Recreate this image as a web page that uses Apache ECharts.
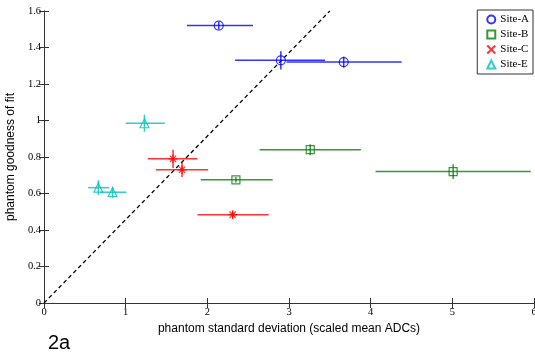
<!DOCTYPE html>
<html>
<head>
<meta charset="utf-8">
<script src="https://cdn.jsdelivr.net/npm/echarts@6/dist/echarts.min.js"></script>
<style>
  html, body { margin: 0; padding: 0; background: #fff; }
  #chart { width: 535px; height: 362px; }
</style>
</head>
<body>
<div id="chart"></div>
<script>
// each point: [x, y, xLow, xHigh, yErr]
const siteA = [
  [2.14, 1.52, 1.75, 2.56, 0.02],
  [2.90, 1.33, 2.34, 3.44, 0.05],
  [3.67, 1.32, 2.97, 4.38, 0.03]
];
const siteB = [
  [3.26, 0.84, 2.64, 3.88, 0.03],
  [2.35, 0.675, 1.92, 2.80, 0.015],
  [5.01, 0.72, 4.06, 5.96, 0.04]
];
const siteC = [
  [1.58, 0.79, 1.27, 1.88, 0.05],
  [1.69, 0.73, 1.37, 2.01, 0.04],
  [2.31, 0.484, 1.88, 2.75, 0.02]
];
const siteE = [
  [1.23, 0.985, 1.00, 1.48, 0.047],
  [0.665, 0.632, 0.54, 0.80, 0.04],
  [0.84, 0.607, 0.685, 1.01, 0.03]
];
const refLine = [[0, 0], [3.5, 1.6]];

const sites = [
  { name: 'Site-A', data: siteA, color: '#0000ff', symbol: 'circle', size: 9 },
  { name: 'Site-B', data: siteB, color: '#008000', symbol: 'rect', size: 8 },
  { name: 'Site-C', data: siteC, color: '#ff0000',
    symbol: 'path://M5 0 L5 10 M0 5 L10 5 M1.5 1.5 L8.5 8.5 M8.5 1.5 L1.5 8.5', size: 9 },
  { name: 'Site-E', data: siteE, color: '#00bfbf', symbol: 'triangle', size: 9 }
];

const serif = '"Liberation Serif", "Times New Roman", serif';
const sans = '"Liberation Sans", Arial, sans-serif';
const axisColor = '#333';

const chart = echarts.init(document.getElementById('chart'));

const errorSeries = sites.map(s => ({
  name: s.name + ' err',
  type: 'custom',
  data: s.data,
  z: 2,
  silent: true,
  renderItem: (params, api) => {
    const x = api.value(0), y = api.value(1), e = api.value(4);
    const h1 = api.coord([api.value(2), y]);
    const h2 = api.coord([api.value(3), y]);
    const v1 = api.coord([x, y - e]);
    const v2 = api.coord([x, y + e]);
    const style = { stroke: s.color, lineWidth: 1.5, opacity: 0.8 };
    return {
      type: 'group',
      children: [
        { type: 'line', shape: { x1: h1[0], y1: h1[1], x2: h2[0], y2: h2[1] }, style },
        { type: 'line', shape: { x1: v1[0], y1: v1[1], x2: v2[0], y2: v2[1] }, style }
      ]
    };
  }
}));

const markerSeries = sites.map(s => ({
  name: s.name,
  type: 'scatter',
  data: s.data.map(d => [d[0], d[1]]),
  symbol: s.symbol,
  symbolSize: s.size,
  z: 3,
  itemStyle: { color: 'transparent', borderColor: s.color, borderWidth: 1.2 }
}));

const axisBase = {
  min: 0,
  axisLine: { show: true, lineStyle: { color: axisColor, width: 1 } },
  axisTick: { show: true, inside: true, length: 5, lineStyle: { color: axisColor } },
  splitLine: { show: false }
};

const option = {
  animation: false,
  backgroundColor: '#fff',
  grid: { left: 44, right: 1, top: 11, bottom: 59, outerBoundsMode: 'none', containLabel: false },
  legend: {
    orient: 'vertical',
    right: 2,
    top: 10,
    data: [
      { name: 'Site-A' },
      { name: 'Site-B' },
      { name: 'Site-C', icon: 'path://M0 0 L10 10 M10 0 L0 10' },
      { name: 'Site-E' }
    ],
    backgroundColor: '#fff',
    borderColor: axisColor,
    borderWidth: 1,
    borderRadius: 0,
    padding: [4, 4, 4, 9],
    itemGap: 4,
    itemWidth: 8,
    itemHeight: 8,
    textStyle: { fontFamily: serif, fontSize: 11, color: '#000' }
  },
  xAxis: [
    Object.assign({}, axisBase, {
      type: 'value', max: 6, interval: 1, position: 'bottom',
      name: 'phantom standard deviation (scaled mean ADCs)',
      nameLocation: 'middle', nameGap: 18,
      nameTextStyle: { fontFamily: sans, fontSize: 12, color: '#000' },
      axisLabel: { fontFamily: serif, fontSize: 10.5, color: '#000', margin: 4 }
    }),
    Object.assign({}, axisBase, {
      type: 'value', max: 6, interval: 1, position: 'top',
      axisLabel: { show: false }
    })
  ],
  yAxis: [
    Object.assign({}, axisBase, {
      type: 'value', max: 1.6, interval: 0.2, position: 'left',
      name: 'phantom goodness of fit',
      nameLocation: 'middle', nameGap: 24,
      nameTextStyle: { fontFamily: sans, fontSize: 12, color: '#000' },
      axisLabel: { fontFamily: serif, fontSize: 10.5, color: '#000', margin: 3 }
    }),
    Object.assign({}, axisBase, {
      type: 'value', max: 1.6, interval: 0.2, position: 'right',
      axisLabel: { show: false }
    })
  ],
  graphic: [
    { type: 'text', left: 48, top: 333,
      style: { text: '2a', font: '20px ' + sans, fill: '#000' } }
  ],
  series: [
    {
      name: 'ref',
      type: 'line',
      data: refLine,
      symbol: 'none',
      silent: true,
      z: 1,
      lineStyle: { color: '#000', width: 1.3, type: [4, 3] }
    }
  ].concat(errorSeries, markerSeries)
};

chart.setOption(option);
</script>
</body>
</html>
